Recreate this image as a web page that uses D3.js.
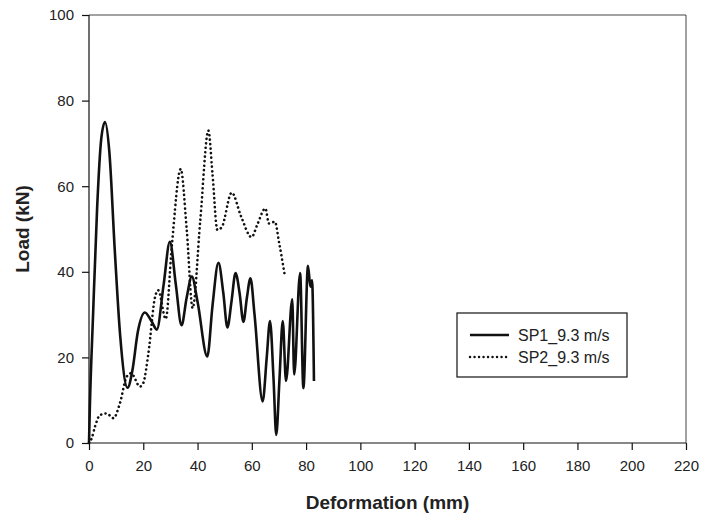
<!DOCTYPE html>
<html>
<head>
<meta charset="utf-8">
<script src="https://cdn.jsdelivr.net/npm/d3@7"></script>
<style>
  body { margin: 0; background: #fff; }
  svg { display: block; font-family: Arial, "Liberation Sans", sans-serif; }
  .axis text { font-size: 15px; fill: #222; }
  .axis path, .axis line { stroke: #111; stroke-width: 1.2; }
</style>
</head>
<body>
<svg id="chart" width="703" height="521"></svg>
<script>
// SP1_9.3 m/s (solid) - deformation (mm) and load (kN)
var sp1X = [0, 0.3, 1.5, 3, 4.5, 5.9, 7.5, 9.5, 11.5, 14.2, 16, 18, 20.6, 23, 25, 27.5, 29.8, 32, 34.1, 36, 37.9, 40, 43.6, 45.5, 47.7, 49.5, 51, 52.5, 54, 55.5, 56.9, 58.2, 59.5, 61, 64, 65.5, 66.7, 68, 69, 70.2, 71.4, 72.6, 74.9, 75.6, 77.8, 79, 80.7, 81.6, 82.2, 82.9];
var sp1Y = [0, 8, 30, 55, 71, 75, 68, 45, 25, 12.9, 17, 26, 30.5, 28.5, 26.5, 37, 47, 37, 27.5, 34, 38.9, 33, 20.2, 32, 42.1, 35, 27, 33, 39.7, 35, 28.3, 34, 38.5, 30, 9.7, 20, 28.5, 15, 1.9, 15, 28.5, 14.5, 33.6, 16, 39.7, 12.8, 41.4, 36.5, 38, 14.5];

// SP2_9.3 m/s (dotted)
var sp2X = [0, 1, 2.2, 4, 6.5, 9, 11.4, 13.9, 15.5, 18.8, 20, 21.9, 24.3, 25.5, 28.3, 30.5, 33.8, 36, 38.2, 41, 44, 45.5, 47.3, 48.9, 52.6, 56, 59.9, 62, 65, 66.3, 68.5, 70, 72];
var sp2Y = [0, 1.1, 3.8, 6.5, 6.9, 5.8, 9.3, 15.5, 16.3, 13.2, 14, 21, 34, 35.7, 29, 45.9, 64, 50, 31.5, 52, 73, 63, 49.8, 50.4, 58.5, 53, 48.1, 51, 54.8, 51.3, 51.7, 47, 39.7];

var xTicks = [0, 20, 40, 60, 80, 100, 120, 140, 160, 180, 200, 220];
var yTicks = [0, 20, 40, 60, 80, 100];
var seriesNames = ["SP1_9.3 m/s", "SP2_9.3 m/s"];

var w = 703, h = 521;
var margin = {left: 89, right: 17, top: 15, bottom: 78};
var svg = d3.select("#chart");

var xScale = d3.scaleLinear().domain([0, 220]).range([margin.left, w - margin.right]);
var yScale = d3.scaleLinear().domain([0, 100]).range([h - margin.bottom, margin.top]);

function toPoints(xs, ys) {
    return xs.map(function(x, i) { return [x, ys[i]]; });
}

var line = d3.line()
    .x(function(d) { return xScale(d[0]); })
    .y(function(d) { return yScale(d[1]); })
    .curve(d3.curveMonotoneX);

// frame (top and right), thin
svg.append("path")
    .attr("d", "M" + xScale(0) + "," + yScale(100) + "H" + xScale(220) + "V" + yScale(0))
    .attr("fill", "none").attr("stroke", "#444").attr("stroke-width", 1);

// axes
var xAxis = d3.axisBottom(xScale).tickValues(xTicks).tickSize(7).tickPadding(10).tickFormat(d3.format("d"));
var yAxis = d3.axisLeft(yScale).tickValues(yTicks).tickSize(7).tickPadding(8).tickFormat(d3.format("d"));

svg.append("g").attr("class", "axis")
    .attr("transform", "translate(0," + yScale(0) + ")")
    .call(xAxis)
    .call(function(g) { g.select(".domain").attr("d", "M" + xScale(0) + ",0H" + xScale(220)); });

svg.append("g").attr("class", "axis")
    .attr("transform", "translate(" + xScale(0) + ",0)")
    .call(yAxis)
    .call(function(g) { g.select(".domain").attr("d", "M0," + yScale(0) + "V" + yScale(100)); });

// series
svg.append("path")
    .datum(toPoints(sp2X, sp2Y))
    .attr("d", line)
    .attr("fill", "none")
    .attr("stroke", "#111")
    .attr("stroke-width", 2.6)
    .attr("stroke-linecap", "round")
    .attr("stroke-dasharray", "0.1,4.4");

svg.append("path")
    .datum(toPoints(sp1X, sp1Y))
    .attr("d", line)
    .attr("fill", "none")
    .attr("stroke", "#111")
    .attr("stroke-width", 2.6)
    .attr("stroke-linejoin", "round");

// axis titles
svg.append("text")
    .attr("text-anchor", "middle")
    .attr("x", (xScale(0) + xScale(220)) / 2)
    .attr("y", 509)
    .style("font-size", "19px").style("font-weight", "bold").style("fill", "#222")
    .text("Deformation (mm)");

svg.append("text")
    .attr("text-anchor", "middle")
    .attr("transform", "translate(29," + (yScale(0) + yScale(100)) / 2 + ") rotate(-90)")
    .style("font-size", "19px").style("font-weight", "bold").style("fill", "#222")
    .text("Load (kN)");

// legend
var legend = svg.append("g");
legend.append("rect")
    .attr("x", 457).attr("y", 313).attr("width", 170).attr("height", 64)
    .attr("fill", "#fff").attr("stroke", "#111").attr("stroke-width", 1.2);

var legendY = [335, 357];
var dashes = [null, "0.1,4.4"];
seriesNames.forEach(function(name, i) {
    legend.append("line")
        .attr("x1", 470).attr("x2", 509)
        .attr("y1", legendY[i]).attr("y2", legendY[i])
        .attr("stroke", "#111")
        .attr("stroke-width", i === 0 ? 2.6 : 2.4)
        .attr("stroke-linecap", i === 0 ? "butt" : "round")
        .attr("stroke-dasharray", dashes[i]);
    legend.append("text")
        .attr("x", 518).attr("y", legendY[i])
        .attr("dy", "0.36em")
        .style("font-size", "16px").style("fill", "#222")
        .text(name);
});
</script>
</body>
</html>
